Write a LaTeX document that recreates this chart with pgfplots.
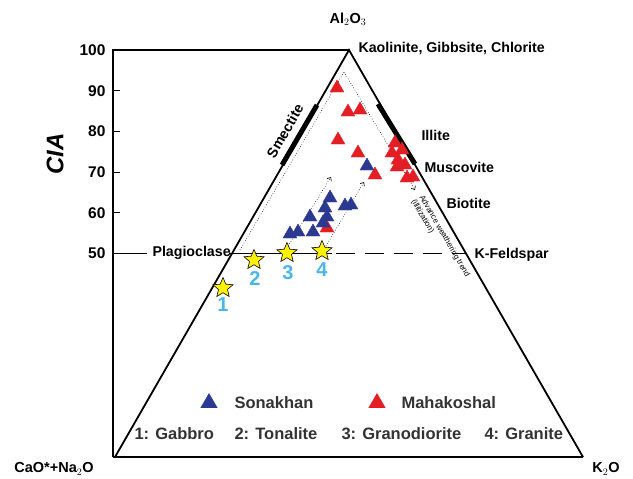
\documentclass[border=0pt]{standalone}
\usepackage{pgfplots}
\pgfplotsset{compat=1.18}
\usepackage{fontspec}
\setmainfont{Liberation Sans}
\usetikzlibrary{arrows.meta}
\definecolor{sblue}{RGB}{43,57,144}
\definecolor{mred}{RGB}{227,30,36}
\definecolor{syel}{RGB}{255,242,0}
\definecolor{ncyan}{RGB}{72,182,230}
\pgfdeclareplotmark{fstar}{%
  \pgfpathmoveto{\pgfpointpolar{90}{\pgfplotmarksize}}%
  \pgfpathlineto{\pgfpointpolar{126}{0.45*\pgfplotmarksize}}%
  \pgfpathlineto{\pgfpointpolar{162}{\pgfplotmarksize}}%
  \pgfpathlineto{\pgfpointpolar{198}{0.45*\pgfplotmarksize}}%
  \pgfpathlineto{\pgfpointpolar{234}{\pgfplotmarksize}}%
  \pgfpathlineto{\pgfpointpolar{270}{0.45*\pgfplotmarksize}}%
  \pgfpathlineto{\pgfpointpolar{306}{\pgfplotmarksize}}%
  \pgfpathlineto{\pgfpointpolar{342}{0.45*\pgfplotmarksize}}%
  \pgfpathlineto{\pgfpointpolar{18}{\pgfplotmarksize}}%
  \pgfpathlineto{\pgfpointpolar{54}{0.45*\pgfplotmarksize}}%
  \pgfpathclose
  \pgfusepathqfillstroke
}
\begin{document}
\begin{tikzpicture}
\begin{axis}[scale only axis, width=633pt, height=478pt,
  xmin=0, xmax=633, ymin=0, ymax=478, y dir=reverse,
  axis lines=none, clip=false]
\path (axis cs:0,0) (axis cs:633,478);
% frame and triangle
\draw[line width=1.8pt] (axis cs:113,457) -- (axis cs:113,50) -- (axis cs:349,50);
\draw[line width=1.8pt] (axis cs:113,457) -- (axis cs:583,457);
\draw[line width=1.8pt, line join=miter] (axis cs:115,457) -- (axis cs:349,50) -- (axis cs:583,457);
% ticks
\draw[line width=1.2pt] (axis cs:113,50) -- (axis cs:120,50);
\draw[line width=1.2pt] (axis cs:113,90.7) -- (axis cs:120,90.7);
\draw[line width=1.2pt] (axis cs:113,131.4) -- (axis cs:120,131.4);
\draw[line width=1.2pt] (axis cs:113,172.1) -- (axis cs:120,172.1);
\draw[line width=1.2pt] (axis cs:113,212.8) -- (axis cs:120,212.8);
\tikzset{tl/.style={anchor=east, font=\bfseries\fontsize{15.5}{17}\selectfont}}
\node[tl] at (axis cs:109,50) {100};
\node[tl] at (axis cs:109,90.7) {90};
\node[tl] at (axis cs:109,131.4) {80};
\node[tl] at (axis cs:109,172.1) {70};
\node[tl] at (axis cs:109,212.8) {60};
\node[tl] at (axis cs:109,253.5) {50};
\node[rotate=90, font=\bfseries\itshape\fontsize{24}{26}\selectfont] at (axis cs:55,154) {CIA};
% 50 line
\draw[line width=1.2pt] (axis cs:113,253.5) -- (axis cs:147,253.5);
\draw[line width=1.5pt] (axis cs:229,253.5) -- (axis cs:332,253.5);
\draw[line width=1.5pt, dash pattern=on 19pt off 10pt] (axis cs:336,253.5) -- (axis cs:465,253.5);
% thick bars
\draw[line width=5pt] (axis cs:282,165) -- (axis cs:317,105);
\draw[line width=5pt] (axis cs:378,104) -- (axis cs:415,164);
% dotted trend lines
\draw[line width=0.6pt, dotted] (axis cs:240,250) -- (axis cs:344,72);
\draw[line width=0.6pt, dotted, -{Straight Barb[length=3pt,width=5pt]}] (axis cs:344,72) -- (axis cs:415,190);
\draw[line width=0.6pt, dotted, -{Straight Barb[length=3pt,width=5pt]}] (axis cs:288,246) -- (axis cs:331,177);
\draw[line width=0.6pt, dotted, -{Straight Barb[length=3pt,width=5pt]}] (axis cs:326,246) -- (axis cs:364,182);
% mineral labels
\tikzset{ml/.style={anchor=west, font=\bfseries\fontsize{14.2}{16}\selectfont}}
\node[font=\bfseries\fontsize{14.5}{16}\selectfont] at (axis cs:348,19) {Al$_2$O$_3$};
\node[ml] at (axis cs:355,48) {Kaolinite, Gibbsite, Chlorite};
\node[ml] at (axis cs:418,135) {Illite};
\node[ml] at (axis cs:421,167) {Muscovite};
\node[ml] at (axis cs:443,203) {Biotite};
\node[ml] at (axis cs:471,255) {K-Feldspar};
\node[ml] at (axis cs:149,253) {Plagioclase};
\node[rotate=60, font=\bfseries\fontsize{14.2}{16}\selectfont] at (axis cs:285,131) {Smectite};
\node[rotate=-60, anchor=west, inner sep=0pt, font=\fontsize{8}{9}\selectfont] at (axis cs:421,196) {Advance weathering trend};
\node[rotate=-60, anchor=west, inner sep=0pt, font=\fontsize{8}{9}\selectfont] at (axis cs:413,200) {(illitization)};
\node[font=\bfseries\fontsize{14.5}{16}\selectfont] at (axis cs:54,469) {CaO*+Na$_2$O};
\node[font=\bfseries\fontsize{14.5}{16}\selectfont] at (axis cs:606,469) {K$_2$O};
% data
\addplot[only marks, mark=triangle*, mark size=8pt, color=mred] coordinates {
(337,88) (348,112) (360,110) (338,140) (358,153) (375,175) (327,228)
(395,143) (392,153) (402,150) (398,160) (405,165) (397,167) (407,178) (413,177)
};
\addplot[only marks, mark=triangle*, mark size=8pt, color=sblue] coordinates {
(290,234) (298,232) (310,217) (313,232) (323,223) (327,217) (325,208) (330,198) (345,206) (351,205) (367,166)
};
\addplot[only marks, mark=fstar, mark size=10.5pt, draw=black, fill=syel, line width=0.6pt] coordinates {
(223,288) (254,260) (287,253) (322,251)
};
\tikzset{nl/.style={text=ncyan, font=\bfseries\fontsize{20}{22}\selectfont}}
\node[nl] at (axis cs:223,305) {1};
\node[nl] at (axis cs:255,279) {2};
\node[nl] at (axis cs:288,273) {3};
\node[nl] at (axis cs:322,270) {4};
% legend
\addplot[only marks, mark=triangle*, mark size=9.5pt, color=sblue] coordinates {(209,403)};
\addplot[only marks, mark=triangle*, mark size=9.5pt, color=mred] coordinates {(377,403)};
\tikzset{lg/.style={anchor=west, text=black!80, font=\bfseries\fontsize{16.5}{18}\selectfont}}
\node[lg] at (axis cs:231,403) {Sonakhan};
\node[lg] at (axis cs:398,403) {Mahakoshal};
\node[lg] at (axis cs:131,434) {1: Gabbro};
\node[lg] at (axis cs:231,434) {2: Tonalite};
\node[lg] at (axis cs:338,434) {3: Granodiorite};
\node[lg] at (axis cs:481,434) {4: Granite};
\end{axis}
\end{tikzpicture}
\end{document}
